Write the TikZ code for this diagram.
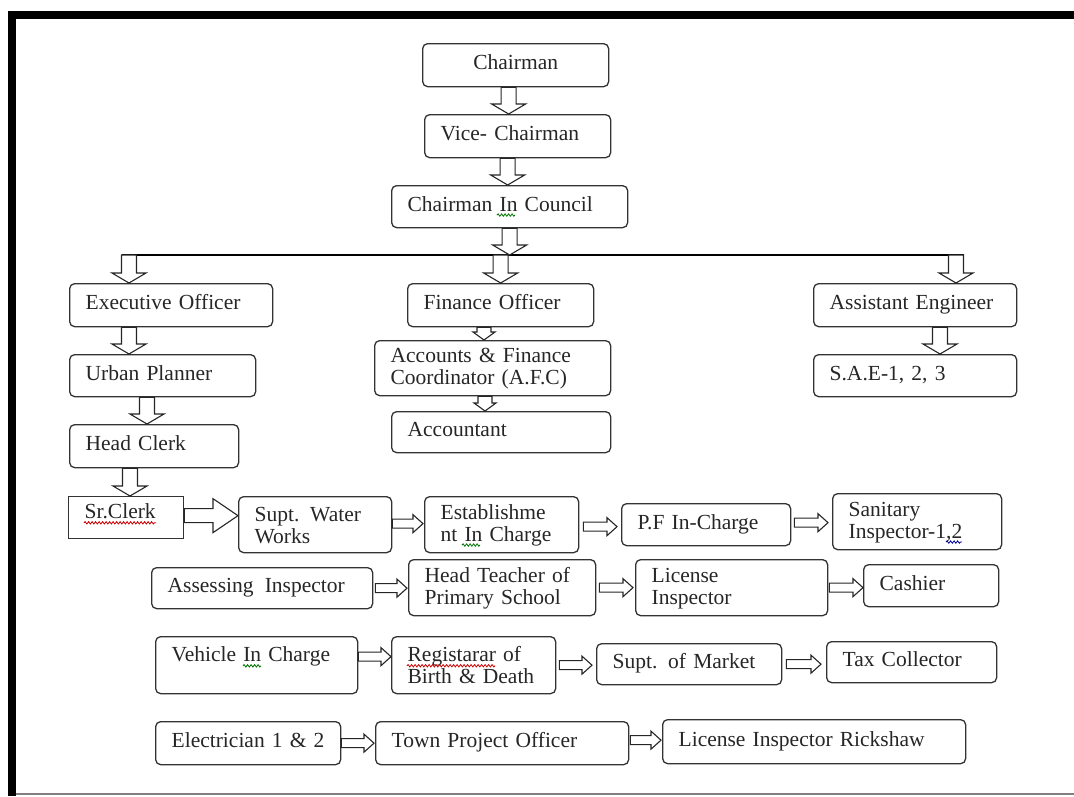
\documentclass[tikz,border=0pt]{standalone}
\usepackage{fontspec}
\setmainfont{Liberation Serif}
\usetikzlibrary{calc,decorations.pathmorphing}
\begin{document}
\begin{tikzpicture}[x=1pt, y=-1pt,
        box/.style 2 args={draw=black!80, line width=1.3pt, rounded corners=5pt, anchor=north west,
            align=left, inner xsep=16pt, inner ysep=0pt, minimum width=#1, minimum height=#2,
            text width=#1-32, text=black!85, font=\fontsize{21.5}{22}\selectfont,
            execute at begin node=\strut},
        block/.style={draw=black!85, line width=1.1pt, fill=white},
        vblock/.style n args={3}{block, to path={let \p1=(\tikztostart), \p2=(\tikztotarget) in
            (\x1-#1,\y1) -- (\x1-#1,\y2+#3) -- (\x1-#2,\y2+#3) -- (\x1,\y2) -- (\x1+#2,\y2+#3) -- (\x1+#1,\y2+#3) -- (\x1+#1,\y1) -- cycle}},
        hblock/.style n args={3}{block, to path={let \p1=(\tikztostart), \p2=(\tikztotarget) in
            (\x1,\y1+#1) -- (\x2-#3,\y1+#1) -- (\x2-#3,\y1+#2) -- (\x2,\y1) -- (\x2-#3,\y1-#2) -- (\x2-#3,\y1-#1) -- (\x1,\y1-#1) -- cycle}},
        squiggle/.style={draw=#1, line width=0.8pt, decorate, decoration={snake, amplitude=1.2pt, segment length=3.5pt}},
    ]
	\useasboundingbox (0,0) rectangle (1074,796);
	\fill[black] (8,11) rectangle (1074,19);
	\fill[black] (8,11) rectangle (16,796);
	\draw[black!50, line width=1.5pt] (16,794) -- (1074,794);
	\node[box={186}{43}, align=center] (chair) at (422,43) {Chairman};
	\node[box={186}{43}] (vice) at (424,114) {Vice- Chairman};
	\node[box={236}{42}] (council) at (391,185) {Chairman In Council};
	\node[box={203}{43}] (exec) at (69,283) {Executive Officer};
	\node[box={186}{43}] (fin) at (407,283) {Finance Officer};
	\node[box={203}{43}] (ae) at (813,283) {Assistant Engineer};
	\node[box={186}{42}] (urban) at (69,354) {Urban Planner};
	\node[box={236}{55}] (afc) at (374,340) {Accounts \& Finance\\Coordinator (A.F.C)};
	\node[box={203}{42}] (sae) at (813,354) {S.A.E-1, 2, 3};
	\node[box={219}{41}] (acct) at (391,411) {Accountant};
	\node[box={169}{43}] (clerk) at (69,424) {Head Clerk};
	\node[box={115}{42}, rounded corners=0pt] (sr) at (68,496) {\raisebox{6pt}{Sr.Clerk}};
	\node[box={153}{56}] (sww) at (238,496) {Supt. Water\\Works};
	\node[box={154}{56}] (est) at (424,496) {Establishme\\nt In Charge};
	\node[box={169}{42}] (pf) at (621,503) {P.F In-Charge};
	\node[box={169}{56}] (san) at (832,493) {Sanitary\\Inspector-1,2};
	\node[box={221}{41}] (assess) at (151,567) {Assessing\hspace{4pt} Inspector};
	\node[box={187}{56}] (head) at (408,559) {Head Teacher of\\Primary School};
	\node[box={192}{56}] (lic) at (635,559) {License\\Inspector};
	\node[box={135}{42}] (cash) at (863,564) {Cashier};
	\node[box={202}{57}] (veh) at (155,636) {Vehicle In Charge\\\mbox{}};
	\node[box={164}{57}] (reg) at (391,636) {Registarar of\\Birth \& Death};
	\node[box={185}{41}] (market) at (596,643) {Supt. of Market};
	\node[box={170}{41}] (tax) at (826,641) {Tax Collector};
	\node[box={185}{43}] (elec) at (155,721) {Electrician 1 \& 2};
	\node[box={253}{43}] (town) at (375,721) {Town Project Officer};
	\node[box={303}{44}] (rick) at (662,719) {License Inspector Rickshaw};
	\draw[squiggle=green!45!black] ([xshift=106pt,yshift=-4pt]council.base west) -- ++(18,0);
	\draw[squiggle=red!80!black] ([xshift=16pt,yshift=2pt]sr.base west) -- ++(72,0);
	\draw[squiggle=green!45!black] ([xshift=38pt,yshift=-26pt]est.base west) -- ++(18,0);
	\draw[squiggle=blue!60!black] ([xshift=114pt,yshift=-26pt]san.base west) -- ++(16,0);
	\draw[squiggle=green!45!black] ([xshift=88pt,yshift=-4pt]veh.base west) -- ++(18,0);
	\draw[squiggle=red!80!black] ([xshift=16pt,yshift=-4pt]reg.base west) -- ++(88,0);
	\coordinate (bus) at (508,255);
	\coordinate (busL) at (129,255);
	\coordinate (busR) at (956,255);
	\draw[black, line width=1.2pt] ([xshift=-7.5pt]busL) -- ([xshift=7.5pt]busR);
	\draw[vblock={7.5pt}{17pt}{10pt}] ([xshift=-7pt]chair.south) to (vice.north);
	\draw[vblock={7.5pt}{17pt}{10pt}] ([xshift=-10pt]vice.south) to (council.north);
	\draw[vblock={7.5pt}{17pt}{10pt}] (council.south) to (bus);
	\draw[vblock={7.5pt}{17pt}{10pt}] (fin.north |- bus) to (fin.north);
	\draw[vblock={7.5pt}{17pt}{10pt}] (busL) to (exec.north);
	\draw[vblock={7.5pt}{17pt}{10pt}] (busR) to (ae.north);
	\draw[vblock={7.5pt}{17pt}{10pt}] ([xshift=60pt]exec.south west) to (urban.north);
	\draw[vblock={7.5pt}{17pt}{10pt}] ([xshift=78pt]urban.south west) to (clerk.north);
	\draw[vblock={7.5pt}{17pt}{10pt}] ([xshift=61pt]clerk.south west) to (sr.north);
	\draw[vblock={7.5pt}{17pt}{10pt}] ([xshift=127pt]ae.south west) to (sae.north);
	\draw[vblock={7pt}{11pt}{8pt}] ([xshift=77pt]fin.south west) to (afc.north);
	\draw[vblock={7pt}{11pt}{8pt}] ([xshift=111pt]afc.south west) to (acct.north);
	\draw[hblock={7pt}{17pt}{25pt}] ([yshift=2pt]sr.east) to (sww.west);
	\draw[hblock={4.5pt}{9pt}{10pt}] ([yshift=1pt]sww.east) to ([xshift=-1pt]est.west);
	\draw[hblock={4.5pt}{9pt}{10pt}] ([xshift=4pt,yshift=-2pt]est.east) to ([xshift=-4pt]pf.west);
	\draw[hblock={4.5pt}{9pt}{10pt}] ([xshift=3pt,yshift=2pt]pf.east) to ([xshift=-4pt]san.west);
	\draw[hblock={4.5pt}{9pt}{10pt}] ([xshift=2pt]assess.east) to ([xshift=-1pt]head.west);
	\draw[hblock={4.5pt}{9pt}{10pt}] ([xshift=3pt]head.east) to ([xshift=-2pt]lic.west);
	\draw[hblock={4.5pt}{9pt}{10pt}] ([xshift=1pt]lic.east) to (cash.west);
	\draw[hblock={4.5pt}{9pt}{10pt}] ([yshift=8.5pt]veh.east) to (reg.west);
	\draw[hblock={4.5pt}{9pt}{10pt}] ([xshift=3pt]reg.east) to ([xshift=-4pt]market.west);
	\draw[hblock={4.5pt}{9pt}{10pt}] ([xshift=4pt]market.east) to ([xshift=-5pt]tax.west);
	\draw[hblock={4.5pt}{9pt}{10pt}] (elec.east) to ([xshift=-1pt]town.west);
	\draw[hblock={4.5pt}{9pt}{10pt}] ([xshift=1pt,yshift=3pt]town.east) to ([xshift=-1pt]rick.west);
\end{tikzpicture}
\end{document}
